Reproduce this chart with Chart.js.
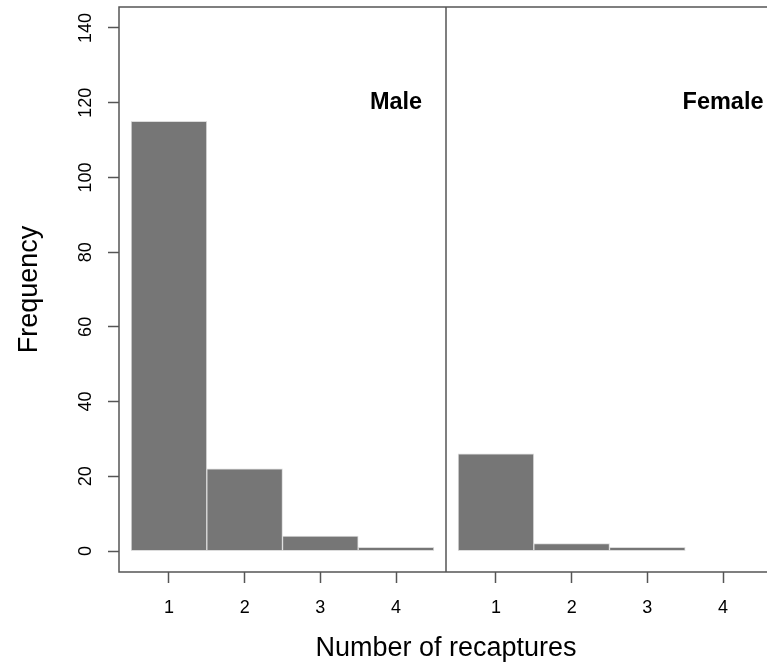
<!DOCTYPE html>
<html lang="en">
<head>
  <meta charset="UTF-8">
  <title>Number of recaptures by sex</title>
  <script src="https://cdn.jsdelivr.net/npm/chart.js"></script>
  <style>
    html, body { margin: 0; padding: 0; background: #fff; overflow: hidden; }
    #wrap { width: 767px; height: 668px; overflow: hidden; }
    canvas { display: block; }
  </style>
</head>
<body>
  <div id="wrap">
    <canvas id="hist" width="776" height="668"></canvas>
  </div>

  <script>
    // data
    const categories = [1, 2, 3, 4];
    const maleCounts = [115, 22, 4, 1];
    const femaleCounts = [26, 2, 1];
    const panelNames = ['Male', 'Female'];
    const yTicks = [0, 20, 40, 60, 80, 100, 120, 140];

    // the female panel sits to the right of the male one, shifted along the x axis
    const panelOffset = 4.32;
    const xMin = 0.34;
    const xMax = xMin + 2 * panelOffset;

    const xTickValues = categories.concat(categories.map(c => c + panelOffset));
    const xTickLabels = categories.concat(categories).map(String);

    const FONT = "'Liberation Sans', Arial, Helvetica, sans-serif";
    const FRAME = '#555555';

    // frame box, panel divider and panel names
    const panelPlugin = {
      id: 'panels',
      afterDatasetsDraw(chart) {
        const { ctx, chartArea: a, scales: { x, y } } = chart;
        ctx.save();
        ctx.strokeStyle = FRAME;
        ctx.lineWidth = 1.5;
        ctx.strokeRect(a.left, a.top, a.right - a.left, a.bottom - a.top);
        const sep = x.getPixelForValue(xMin + panelOffset);
        ctx.beginPath();
        ctx.moveTo(sep, a.top);
        ctx.lineTo(sep, a.bottom);
        ctx.stroke();

        ctx.fillStyle = '#000';
        ctx.font = "bold 23.5px " + FONT;
        ctx.textAlign = 'center';
        ctx.textBaseline = 'middle';
        panelNames.forEach((name, i) => {
          ctx.fillText(name, x.getPixelForValue(4 + i * panelOffset), y.getPixelForValue(120));
        });
        ctx.restore();
      }
    };

    const barStyle = {
      backgroundColor: '#767676',
      borderColor: '#dcdcdc',
      borderWidth: 1,
      borderSkipped: false,
      barPercentage: 1,
      categoryPercentage: 1,
      grouped: false
    };

    new Chart(document.getElementById('hist'), {
      type: 'bar',
      data: {
        datasets: [
          Object.assign({
            label: 'Male',
            data: maleCounts.map((v, i) => ({ x: categories[i], y: v }))
          }, barStyle),
          Object.assign({
            label: 'Female',
            data: femaleCounts.map((v, i) => ({ x: categories[i] + panelOffset, y: v }))
          }, barStyle)
        ]
      },
      options: {
        responsive: false,
        animation: false,
        layout: { padding: { top: 7, right: 3, left: 0, bottom: 0 } },
        plugins: {
          legend: { display: false },
          tooltip: { enabled: false }
        },
        scales: {
          x: {
            type: 'linear',
            min: xMin,
            max: xMax,
            offset: false,
            afterBuildTicks: s => { s.ticks = xTickValues.map(v => ({ value: v })); },
            afterFit: s => { s.height = 96; s.paddingLeft = 0; s.paddingRight = 0; },
            border: { display: false },
            grid: { offset: false, drawOnChartArea: false, drawTicks: true, tickLength: 11, tickColor: FRAME, tickWidth: 1.5 },
            ticks: {
              color: '#000',
              padding: 14,
              maxRotation: 0,
              autoSkip: false,
              font: { family: FONT, size: 18 },
              callback: (v, i) => xTickLabels[i]
            },
            title: {
              display: true,
              text: 'Number of recaptures',
              color: '#000',
              font: { family: FONT, size: 27 },
              padding: { top: 0, bottom: 3 }
            }
          },
          y: {
            min: -5.6,
            max: 145.6,
            afterBuildTicks: s => { s.ticks = yTicks.map(v => ({ value: v })); },
            afterFit: s => { s.width = 119; s.paddingTop = 0; s.paddingBottom = 0; },
            border: { display: false },
            grid: { drawOnChartArea: false, drawTicks: true, tickLength: 11, tickColor: FRAME, tickWidth: 1.5 },
            ticks: {
              color: '#000',
              padding: 7,
              minRotation: 90,
              maxRotation: 90,
              crossAlign: 'center',
              autoSkip: false,
              font: { family: FONT, size: 18 }
            },
            title: {
              display: true,
              text: 'Frequency',
              color: '#000',
              font: { family: FONT, size: 27 },
              padding: { top: 13, bottom: 0 }
            }
          }
        }
      },
      plugins: [panelPlugin]
    });
  </script>
</body>
</html>
